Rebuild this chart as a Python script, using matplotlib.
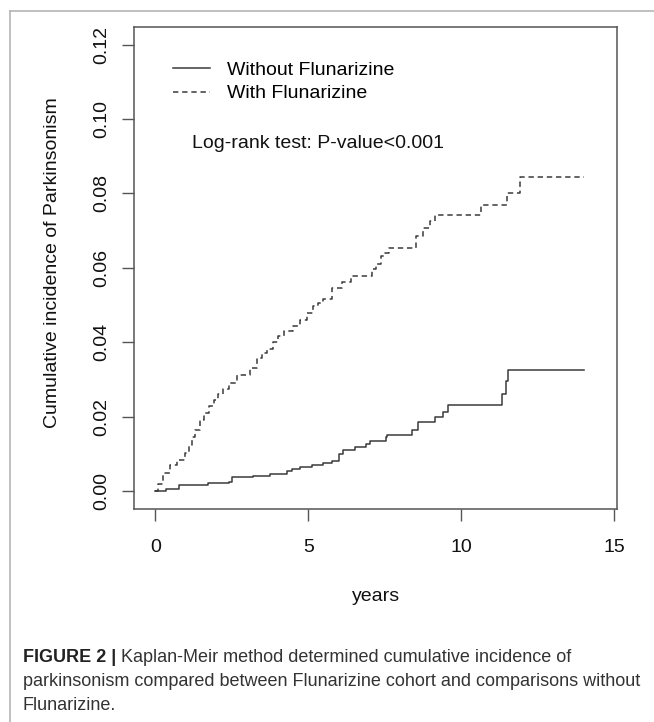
import matplotlib
matplotlib.use('Agg')
import matplotlib.pyplot as plt
from matplotlib.lines import Line2D

# Kaplan-Meier cumulative incidence
years_without = [0, 0.35, 0.78, 1.73, 2.39, 2.5, 3.2, 3.75, 4.29, 4.46, 4.73, 5.11, 5.49, 5.76,
                 6.01, 6.14, 6.53, 6.89, 7.02, 7.54, 7.58, 8.38, 8.6, 9.14, 9.39, 9.58,
                 11.32, 11.46, 11.52, 14.0]
inc_without = [0, 0.0006, 0.0016, 0.0021, 0.0025, 0.0037, 0.0040, 0.0046, 0.0055, 0.0059, 0.0066,
               0.0070, 0.0075, 0.0081, 0.0100, 0.0110, 0.0118, 0.0127, 0.0135, 0.0145, 0.0151,
               0.0164, 0.0187, 0.0199, 0.0214, 0.0231, 0.0261, 0.0295, 0.0326, 0.0326]

years_with = [0, 0.1, 0.26, 0.47, 0.7, 0.97, 1.1, 1.19, 1.3, 1.46, 1.6, 1.75, 1.9, 2.05, 2.2,
              2.39, 2.66, 3.09, 3.31, 3.5, 3.64, 3.85, 4.02, 4.2, 4.51, 4.73, 4.95, 5.16, 5.3,
              5.49, 5.76, 6.1, 6.39, 7.08, 7.2, 7.37, 7.5, 7.65, 8.51, 8.75, 8.97, 9.14,
              10.65, 11.49, 11.93, 14.0]
inc_with = [0, 0.0020, 0.0048, 0.0070, 0.0085, 0.0102, 0.0125, 0.0146, 0.0165, 0.0191, 0.0210,
            0.0228, 0.0245, 0.0260, 0.0275, 0.0290, 0.0313, 0.0331, 0.0358, 0.0370, 0.0382,
            0.0400, 0.0416, 0.0430, 0.0443, 0.0461, 0.0480, 0.0497, 0.0505, 0.0517, 0.0546,
            0.0561, 0.0578, 0.0596, 0.0610, 0.0632, 0.0640, 0.0654, 0.0686, 0.0708, 0.0726,
            0.0742, 0.0768, 0.0800, 0.0845, 0.0845]

labels = ['Without Flunarizine', 'With Flunarizine']
x_ticks = [0, 5, 10, 15]
y_ticks = [0.00, 0.02, 0.04, 0.06, 0.08, 0.10, 0.12]

plt.rcParams['font.family'] = ['Liberation Sans', 'DejaVu Sans']

fig = plt.figure(figsize=(6.54, 7.22), dpi=100)
ax = fig.add_axes([0.2054, 0.295, 0.7385, 0.668])

ink = '#3a3a3a'
ax.plot(years_without, inc_without, drawstyle='steps-post', color=ink, lw=1.1, label=labels[0])
ax.plot(years_with, inc_with, drawstyle='steps-post', color=ink, lw=1.1,
        linestyle=(0, (3.5, 2.5)), label=labels[1])

ax.set_xlim(-0.69, 15.1)
ax.set_ylim(-0.0048, 0.1248)
ax.set_xticks(x_ticks)
ax.set_xticklabels([str(t) for t in x_ticks])
ax.set_yticks(y_ticks)
ax.set_yticklabels(['%.2f' % t for t in y_ticks], rotation=90, va='center')
ax.tick_params(direction='out', length=8.6, width=1.0, color='#555555',
               labelsize=14, labelcolor='#111111')
ax.tick_params(axis='y', pad=9)
ax.tick_params(axis='x', pad=13)
for s in ax.spines.values():
    s.set_color('#555555')
    s.set_linewidth(1.1)

ax.set_ylabel('Cumulative incidence of Parkinsonism', fontsize=14, color='#111111', va='center')
ax.yaxis.set_label_coords(-0.170, 0.51)
ax.set_xlabel('years', fontsize=14, color='#111111', va='center')
ax.xaxis.set_label_coords(0.5, -0.182)

ax.legend(loc='upper left', bbox_to_anchor=(0.08, 0.928), frameon=False, fontsize=14,
          handlelength=1.9, handletextpad=0.9, labelspacing=0.3, borderpad=0,
          borderaxespad=0)
ax.text(1.19, 0.0935, 'Log-rank test: P-value<0.001', fontsize=14, color='#111111', va='center')

# panel border (left and top edges only)
fig.add_artist(Line2D([9.5 / 654, 9.5 / 654], [0, 1 - 10.7 / 722], color='#b5b5b5', lw=1.2))
fig.add_artist(Line2D([9.5 / 654, 1], [1 - 10.7 / 722, 1 - 10.7 / 722], color='#b5b5b5', lw=1.2))

# caption
cap_size = 13
renderer = fig.canvas.get_renderer()
head = fig.text(23 / 654, 1 - 657 / 722, 'FIGURE 2 |', fontsize=cap_size, fontweight='bold',
                color='#222222', va='center')
bb = head.get_window_extent(renderer)
fig.text((bb.x1 + 5) / 654, 1 - 657 / 722,
         'Kaplan-Meir method determined cumulative incidence of',
         fontsize=cap_size, color='#333333', va='center')
fig.text(23 / 654, 1 - 682 / 722,
         'parkinsonism compared between Flunarizine cohort and comparisons without',
         fontsize=cap_size, color='#333333', va='center')
fig.text(23 / 654, 1 - 706 / 722, 'Flunarizine.', fontsize=cap_size, color='#333333', va='center')

fig.savefig('out.png', dpi=100)
plt.close(fig)
